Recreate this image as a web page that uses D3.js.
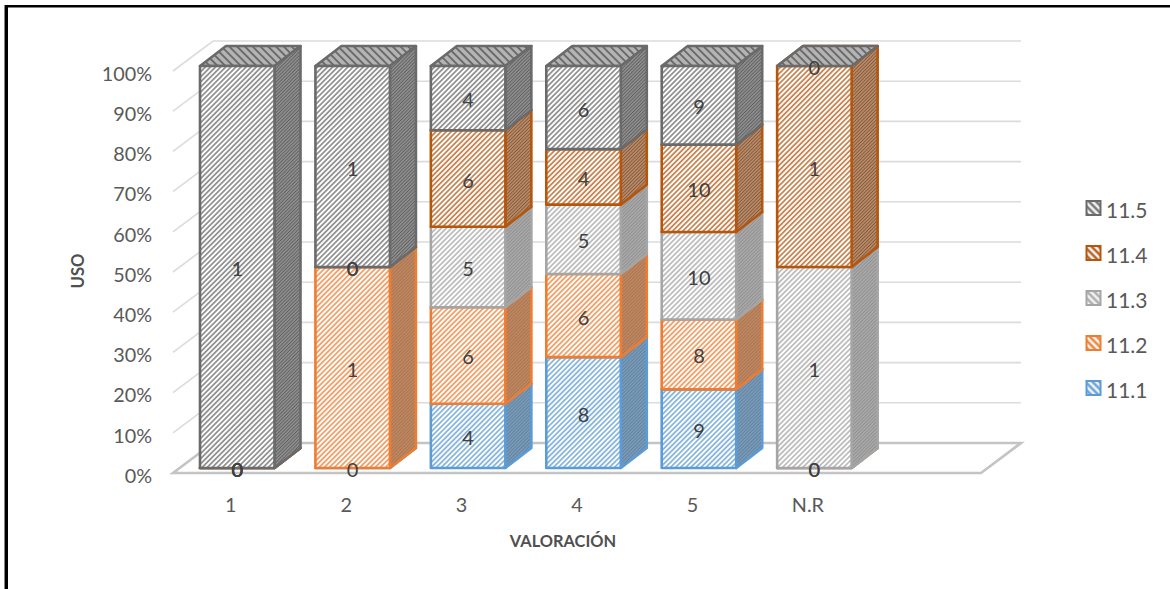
<!DOCTYPE html>
<html>
<head>
<meta charset="utf-8">
<script src="https://cdn.jsdelivr.net/npm/d3@7"></script>
<style>
html, body { margin: 0; padding: 0; background: #fff; }
svg { display: block; }
text { font-family: Lato, "Open Sans", sans-serif; }
</style>
</head>
<body>
<div id="chart"></div>
<script>
const WIDTH = 1170, HEIGHT = 589;
// values
const categories = ["1", "2", "3", "4", "5", "N.R", ""];
const seriesNames = ["11.1", "11.2", "11.3", "11.4", "11.5"];
const v111 = [0, 0, 4, 8, 9, 0];
const v112 = [0, 1, 6, 6, 8, 0];
const v113 = [0, 0, 5, 5, 10, 1];
const v114 = [0, 0, 6, 4, 10, 1];
const v115 = [1, 1, 4, 6, 9, 0];
const seriesValues = [v111, v112, v113, v114, v115];
const yTicks = [0, 10, 20, 30, 40, 50, 60, 70, 80, 90, 100];

const colors = { "11.1": "#5b9bd5", "11.2": "#ed7d31", "11.3": "#a5a5a5", "11.4": "#b5560f", "11.5": "#6a6a6a" };
const sideBase = { "11.1": "#8098ad", "11.2": "#b08a70", "11.3": "#a8a8a8", "11.4": "#ab8c76", "11.5": "#8c8c8c" };

// 3d box offsets
const DEPTH_X = 26, DEPTH_Y = -20;   // bar depth
const WALL_X = 40, WALL_Y = -30;     // floor depth
const INSET_X = 6.5, INSET_Y = -5;   // bar sits a bit behind the front edge
const BAR_W = 74.5;

const svg = d3.select("#chart").append("svg").attr("width", WIDTH).attr("height", HEIGHT);
const defs = svg.append("defs");
defs.append("filter").attr("id", "soft").attr("x", "-2%").attr("y", "-2%").attr("width", "104%").attr("height", "104%")
    .append("feGaussianBlur").attr("stdDeviation", 0.45);

const xScale = d3.scaleBand().domain(categories).range([173, 981]);
const yScale = d3.scaleLinear().domain([0, 100]).range([473, 71]);

function AddHatch(id, bg, stroke, size, width, angle) {
    const p = defs.append("pattern").attr("id", id)
        .attr("patternUnits", "userSpaceOnUse")
        .attr("width", size).attr("height", size)
        .attr("patternTransform", "rotate(" + angle + ")");
    p.append("rect").attr("width", size).attr("height", size).attr("fill", bg);
    p.append("line").attr("x1", size / 2).attr("x2", size / 2).attr("y1", 0).attr("y2", size)
        .attr("stroke", stroke).attr("stroke-width", width);
}
seriesNames.forEach((s, i) => {
    AddHatch("front" + i, "#ffffff", colors[s], 3.6, 1.3, 45);
    AddHatch("side" + i, sideBase[s], d3.color(colors[s]).darker(0.5).formatHex(), 2.4, 0.7, 45);
    AddHatch("top" + i, "#b4b4b4", colors[s], 5.5, 1.9, -45);
    AddHatch("legend" + i, "#f2f2f2", colors[s], 5, 2.2, -45);
});

// frame, only top and left are in the picture
svg.append("rect").attr("x", 5).attr("y", 5).attr("width", WIDTH - 5).attr("height", 2.5).attr("fill", "#000");
svg.append("rect").attr("x", 4).attr("y", 5).attr("width", 1.2).attr("height", HEIGHT - 5).attr("fill", "#888");
svg.append("rect").attr("x", 5).attr("y", 5).attr("width", 3).attr("height", HEIGHT - 5).attr("fill", "#000");

// walls and floor
const X0 = xScale.range()[0], X1 = xScale.range()[1];
const grid = svg.append("g").attr("fill", "none");
yTicks.filter(t => t > 0).forEach(t => {
    grid.append("path")
        .attr("d", d3.line()([[X0, yScale(t)], [X0 + WALL_X, yScale(t) + WALL_Y], [X1 + WALL_X, yScale(t) + WALL_Y]]))
        .attr("stroke", "#dcdcdc").attr("stroke-width", 1.6);
});
grid.append("path")
    .attr("d", d3.line().curve(d3.curveLinearClosed)([[X0, yScale(0)], [X1, yScale(0)], [X1 + WALL_X, yScale(0) + WALL_Y], [X0 + WALL_X, yScale(0) + WALL_Y]]))
    .attr("stroke", "#c4c4c4").attr("stroke-width", 2.6);

// axes
const yAxis = svg.append("g").attr("transform", "translate(158,3)")
    .call(d3.axisLeft(yScale).tickValues(yTicks).tickFormat(d => d + "%").tickSize(0).tickPadding(6));
const xAxis = svg.append("g").attr("transform", "translate(0,498)")
    .call(d3.axisBottom(xScale).tickSize(0).tickPadding(0));
[yAxis, xAxis].forEach(a => {
    a.select(".domain").remove();
    a.selectAll("text").style("font-family", "Lato, sans-serif").style("font-size", "19.8px").attr("fill", "#595959");
});
xAxis.selectAll("text").attr("dy", "0.72em");

svg.append("text").attr("transform", "translate(78,271) rotate(-90)").attr("text-anchor", "middle")
    .attr("dominant-baseline", "central").attr("font-weight", "bold").attr("font-size", 16.6).attr("fill", "#505050").text("USO");
svg.append("text").attr("x", 563).attr("y", 547).attr("text-anchor", "middle")
    .attr("font-weight", "bold").attr("font-size", 16.4).attr("fill", "#505050").text("VALORACIÓN");

// stacked boxes
const rows = categories.slice(0, 6).map((c, i) => {
    const row = { cat: c };
    seriesNames.forEach((s, k) => { row[s] = seriesValues[k][i]; });
    return row;
});
const stacked = d3.stack().keys(seriesNames).offset(d3.stackOffsetExpand)(rows);
const barX = c => xScale(c) + INSET_X + 20.5;
const barY = v => yScale(v * 100) + INSET_Y;

const bars = svg.append("g").attr("filter", "url(#soft)");
rows.forEach((row, r) => {
    stacked.forEach((layer, k) => {
        const d = layer[r];
        const s = layer.key, edge = colors[s];
        const x = barX(row.cat), yb = barY(d[0]), yt = barY(d[1]);
        const xr = x + BAR_W;
        const poly = d3.line().curve(d3.curveLinearClosed);
        const g = bars.append("g").attr("stroke", edge).attr("stroke-width", 2.6).attr("stroke-linejoin", "round");
        // zero sized boxes still show their lid, like the grey one on N.R
        g.append("path").attr("d", poly([[x, yt], [xr, yt], [xr + DEPTH_X, yt + DEPTH_Y], [x + DEPTH_X, yt + DEPTH_Y]]))
            .attr("fill", "url(#top" + k + ")");
        if (d[1] - d[0] <= 0) return;
        g.append("path").attr("d", poly([[xr, yb], [xr + DEPTH_X, yb + DEPTH_Y], [xr + DEPTH_X, yt + DEPTH_Y], [xr, yt]]))
            .attr("fill", "url(#side" + k + ")");
        g.append("rect").attr("x", x).attr("y", yt).attr("width", BAR_W).attr("height", yb - yt)
            .attr("fill", "url(#front" + k + ")");
    });
});

// data labels on top of everything, zeros included
const labels = svg.append("g");
rows.forEach((row, r) => {
    stacked.forEach(layer => {
        const d = layer[r];
        labels.append("text")
            .attr("x", barX(row.cat) + BAR_W / 2)
            .attr("y", (barY(d[0]) + barY(d[1])) / 2 + 1)
            .attr("text-anchor", "middle").attr("dominant-baseline", "central")
            .attr("font-size", 20).attr("fill", "#404040")
            .text(row[layer.key]);
    });
});

// legend
const legendY = d3.scalePoint().domain(seriesNames.slice().reverse()).range([208, 388]);
seriesNames.forEach((s, k) => {
    svg.append("rect").attr("x", 1086.5).attr("y", legendY(s) - 7).attr("width", 14).attr("height", 14)
        .attr("fill", "url(#legend" + k + ")").attr("stroke", colors[s]).attr("stroke-width", 2);
    svg.append("text").attr("x", 1106).attr("y", legendY(s) + 1).attr("dominant-baseline", "central")
        .attr("font-size", 21).attr("fill", "#595959").text(s);
});
</script>
</body>
</html>
